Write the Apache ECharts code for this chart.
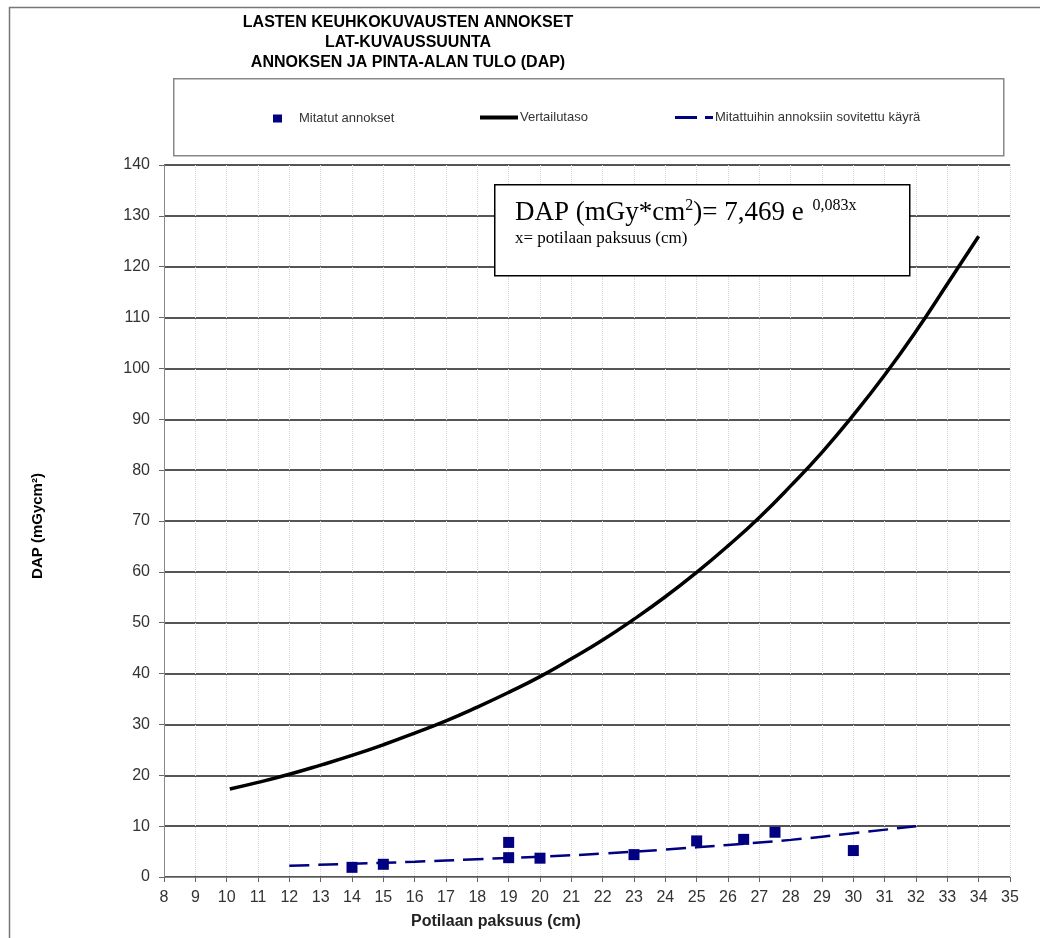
<!DOCTYPE html>
<html>
<head>
<meta charset="utf-8">
<script src="https://cdn.jsdelivr.net/npm/echarts@6/dist/echarts.min.js"></script>
<style>
  html, body { margin: 0; padding: 0; background: #fff; }
  #chart { width: 1040px; height: 938px; }
</style>
</head>
<body>
<div id="chart"></div>
<script>
  // mitatut annokset (x = potilaan paksuus cm, y = DAP)
  const measX = [14, 15, 19, 19, 20, 23, 25, 26.5, 27.5, 30]
  const measY = [1.9, 2.5, 6.8, 3.8, 3.7, 4.4, 7.1, 7.4, 8.8, 5.2]
  // vertailutaso, luettu kuvasta
  const refX = [10.1, 11, 12, 13, 14, 15, 16, 17, 18, 19, 20, 21, 22, 23, 24, 25, 26, 27, 28, 29, 30, 31, 32, 33, 34]
  const refY = [17.3, 18.6, 20.2, 22.0, 23.9, 26.0, 28.3, 30.7, 33.4, 36.3, 39.4, 42.9, 46.6, 50.7, 55.1, 59.9, 65.1, 70.7, 76.9, 83.5, 90.8, 98.7, 107.3, 116.6, 126]
  // sovitettu käyrä
  const fitX = [12, 14, 16, 18, 20, 22, 24, 26, 28, 30, 32]
  const fitY = [2.2, 2.6, 3.0, 3.5, 4.0, 4.6, 5.4, 6.3, 7.3, 8.6, 10.0]

  const titleLines = ['LASTEN KEUHKOKUVAUSTEN ANNOKSET', 'LAT-KUVAUSSUUNTA', 'ANNOKSEN JA PINTA-ALAN TULO (DAP)']
  const seriesNames = ['Mitatut annokset', 'Vertailutaso', 'Mitattuihin annoksiin sovitettu käyrä']

  const zip = (xs, ys) => xs.map((x, i) => [x, ys[i]])
  const font = "'Liberation Sans', Arial, sans-serif"
  const serif = "'Liberation Serif', 'Times New Roman', serif"
  const navy = '#000080'

  const chart = echarts.init(document.getElementById('chart'), null, {renderer: 'canvas'})

  const legendText = {color: '#333', fontSize: 13, fontFamily: font}

  const option = {
    backgroundColor: '#fff',
    animation: false,
    title: {
      text: titleLines.join('\n'),
      left: 403,
      top: 8,
      textAlign: 'center',
      textStyle: {fontSize: 16, fontWeight: 'bold', fontFamily: font, color: '#000', lineHeight: 20}
    },
    legend: [
      {
        data: [seriesNames[0]], left: 273, top: 112, padding: 0, icon: 'rect',
        itemWidth: 9, itemHeight: 8, textStyle: Object.assign({padding: [0, 0, 0, 12]}, legendText)
      },
      {
        data: [seriesNames[1]], left: 480, top: 111, padding: 0, icon: 'rect',
        itemWidth: 38, itemHeight: 4, textStyle: Object.assign({padding: [0, 0, 0, -3]}, legendText)
      },
      {
        data: [seriesNames[2]], left: 675, top: 111, padding: 0,
        icon: 'path://M0,0h22v3h-22zM30,0h8v3h-8z',
        itemWidth: 38, itemHeight: 3, textStyle: Object.assign({padding: [0, 0, 0, -3]}, legendText)
      }
    ],
    grid: {left: 164, right: 30, top: 165, bottom: 61},
    xAxis: {
      type: 'value', min: 8, max: 35, interval: 1,
      name: 'Potilaan paksuus (cm)', nameLocation: 'middle', nameGap: 37,
      nameTextStyle: {fontSize: 16, fontWeight: 'bold', fontFamily: font, color: '#222', padding: [0, 182, 0, 0]},
      axisLine: {lineStyle: {color: '#888', width: 1}},
      axisTick: {show: true, length: 5, lineStyle: {color: '#666'}},
      axisLabel: {fontSize: 16, fontFamily: font, color: '#333', margin: 13},
      splitLine: {show: true, lineStyle: {color: '#d4d4d4', type: 'dotted', width: 1}}
    },
    yAxis: {
      type: 'value', min: 0, max: 140, interval: 10,
      name: 'DAP (mGycm²)', nameLocation: 'middle', nameGap: 119,
      nameTextStyle: {fontSize: 15, fontWeight: 'bold', fontFamily: font, color: '#000', padding: [0, 10, 0, 0]},
      axisLine: {show: true, lineStyle: {color: '#888', width: 1}},
      axisTick: {show: true, length: 5, lineStyle: {color: '#666'}},
      axisLabel: {fontSize: 16, fontFamily: font, color: '#333', margin: 14},
      splitLine: {show: true, lineStyle: {color: '#555', width: 2}}
    },
    series: [
      {
        name: seriesNames[0], type: 'scatter', symbol: 'rect', symbolSize: 11,
        itemStyle: {color: navy, opacity: 1}, data: zip(measX, measY), z: 5
      },
      {
        name: seriesNames[1], type: 'line', smooth: true, symbol: 'none',
        lineStyle: {color: '#000', width: 3.5}, itemStyle: {color: '#000'},
        data: zip(refX, refY)
      },
      {
        name: seriesNames[2], type: 'line', smooth: true, symbol: 'none',
        lineStyle: {color: navy, width: 2.5, type: [20, 9]}, itemStyle: {color: navy},
        data: zip(fitX, fitY)
      }
    ],
    graphic: [
      {
        type: 'rect', left: 7, top: 5, z: -10, silent: true,
        shape: {width: 1100, height: 1000},
        style: {fill: null, stroke: '#777', lineWidth: 1.5}
      },
      {
        type: 'rect', left: 173, top: 78, z: -5, silent: true,
        shape: {width: 830, height: 77},
        style: {fill: '#fff', stroke: '#888', lineWidth: 1.5}
      },
      {
        type: 'rect', left: 494, top: 184, z: 20, silent: true,
        shape: {width: 415, height: 91},
        style: {fill: '#fff', stroke: '#000', lineWidth: 1.5}
      },
      {
        type: 'text', left: 515, top: 198, z: 21, silent: true,
        style: {
          text: '{a|DAP (mGy*cm}{s|2}{a|)= 7,469 e }{t|0,083x}\n{b|x= potilaan paksuus (cm)}',
          fill: '#000',
          rich: {
            a: {fontFamily: serif, fontSize: 27, lineHeight: 30},
            s: {fontFamily: serif, fontSize: 16, lineHeight: 10, verticalAlign: 'top'},
            t: {fontFamily: serif, fontSize: 16, lineHeight: 10, verticalAlign: 'top', padding: [0, 0, 0, 2]},
            b: {fontFamily: serif, fontSize: 17, lineHeight: 22}
          }
        }
      }
    ]
  }

  chart.setOption(option)
</script>
</body>
</html>
